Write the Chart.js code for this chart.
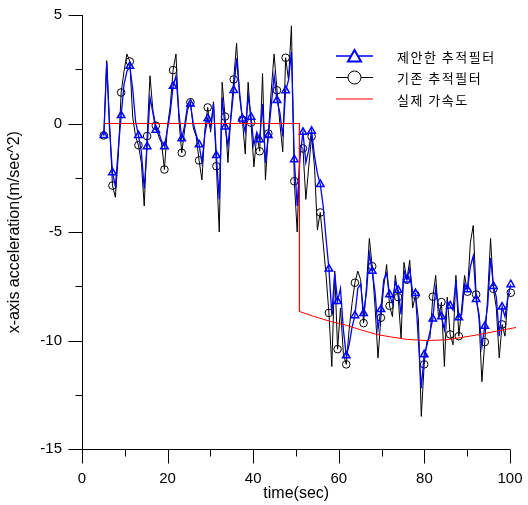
<!DOCTYPE html>
<html>
<head>
<meta charset="utf-8">
<script src="https://cdn.jsdelivr.net/npm/chart.js@4.4.1/dist/chart.umd.min.js"></script>
<style>
    html, body { margin: 0; padding: 0; background: #fff; }
    #wrap { width: 528px; height: 505px; }
</style>
</head>
<body>
<div id="wrap"><canvas id="accelChart" width="528" height="505"></canvas></div>
<script>
// filter outputs are sampled every sampleStep seconds, a marker every 3rd sample
var startTime = 5.1;
var sampleStep = 0.6743;
var markerEvery = 3;

var proposedFilter = [
    -0.55, 2.8, -0.3, -2.26, -2.9, -1.2, 0.37, 1.8, 2.4, 2.64, 1.6, 0.1,
    -0.55, -1.3, -3.0, -1.06, 1.2, 0.5, -0.3, -0.4, -0.8, -1.06, -0.3, 0.5,
    1.72, 2.2, 0.5, -0.7, -0.1, 0.8, 0.9, 0.0, -0.5, -0.97, -1.8, -0.5,
    0.23, -0.2, 0.9, -1.47, -3.5, 1.2, -0.15, -1.0, 0.2, 1.53, 3.0, 1.5,
    0.22, -0.4, 1.3, 0.3, -1.0, -0.4, -0.74, 0.9, -1.8, -0.55, 0.8, 2.2,
    1.07, 0.5, -0.6, 1.52, 2.0, 3.3, -1.66, -3.8, -1.5, -0.4, -1.8, -1.2,
    -0.35, -1.5, -2.3, -2.8, -3.8, -5.3, -6.7, -8.8, -6.9, -8.2, -7.6, -9.5,
    -10.7, -10.2, -9.4, -8.85, -7.6, -7.4, -8.75, -7.8, -6.0, -6.8, -7.8, -9.5,
    -8.57, -7.2, -6.9, -7.88, -8.3, -7.3, -7.68, -8.8, -6.8, -7.2, -6.7, -7.8,
    -7.83, -10.0, -12.2, -10.65, -10.2, -9.6, -9.0, -7.6, -8.5, -8.9, -9.5, -8.2,
    -8.4, -8.6, -7.2, -8.95, -8.8, -7.4, -7.65, -6.6, -6.1, -8.1, -8.8, -10.3,
    -9.34, -8.4, -6.2, -7.5, -8.0, -9.8, -8.45, -8.9, -8.0, -7.42, -6.65
];

var conventionalFilter = [
    -0.55, 2.9, 0.0, -2.86, -3.4, -1.5, 1.43, 2.4, 3.2, 2.86, 0.3, -0.6,
    -1.0, -1.8, -3.8, -0.58, 2.2, 0.6, -0.1, -0.6, -0.9, -2.12, -0.2, 0.8,
    2.46, 3.2, 0.2, -1.35, -0.3, 0.6, 0.98, -0.2, -0.6, -1.7, -2.6, -0.3,
    0.74, -0.4, 1.0, -1.97, -5.0, 1.9, 0.32, -1.8, 0.3, 2.03, 3.7, 1.3,
    0.18, -1.4, 1.9, 0.04, -2.0, -0.5, -1.28, 2.3, -2.6, -0.46, 1.5, 3.2,
    1.53, 0.0, -1.3, 3.03, 2.0, 4.5, -2.66, -5.0, -1.0, -1.15, -3.5, -2.0,
    -0.6, -2.0, -4.9, -4.1, -5.5, -7.0, -8.73, -11.2, -6.8, -10.4, -8.5, -10.6,
    -11.1, -9.5, -8.3, -7.34, -6.8, -7.2, -9.2, -7.5, -5.3, -6.58, -8.5, -10.8,
    -8.95, -7.5, -6.5, -8.4, -8.9, -7.0, -8.0, -9.9, -6.4, -7.2, -6.3, -8.5,
    -7.9, -9.0, -13.5, -11.1, -10.0, -9.9, -7.98, -7.0, -9.0, -8.23, -11.2, -8.0,
    -9.72, -10.2, -7.0, -9.8, -8.5, -7.0, -7.75, -5.5, -4.7, -7.88, -9.0, -11.9,
    -10.07, -8.0, -5.3, -7.62, -8.5, -10.8, -9.26, -9.8, -8.0, -7.8, -5.9
];

var trueTime = [5.3, 50.8, 50.8, 54, 58, 61.8, 65, 68.8, 72, 76, 80.6, 85, 89, 93, 96.9, 101.4];
var trueAccel = [0, 0, -8.66, -8.88, -9.12, -9.3, -9.5, -9.72, -9.83, -9.95, -10.0, -9.97, -9.85, -9.72, -9.57, -9.4];

var xTicks = [0, 20, 40, 60, 80, 100];
var yTicks = [5, 0, -5, -10, -15];
var legendLabels = ['제안한 추적필터', '기존 추적필터', '실제 가속도'];

function toPoints(values) {
    return values.map(function (v, i) { return { x: startTime + i * sampleStep, y: v }; });
}

function markerRadius(r) {
    return function (c) { return c.dataIndex % markerEvery === 0 ? r : 0; };
}

// axes with major/minor ticks, axis titles and the legend inside the plot
var framePlugin = {
    id: 'frame',
    afterDraw: function (chart) {
        var ctx = chart.ctx;
        var xs = chart.scales.x, ys = chart.scales.y;
        var L = Math.round(xs.getPixelForValue(xTicks[0])) + 0.5;
        var R = Math.round(xs.getPixelForValue(xTicks[xTicks.length - 1]));
        var T = Math.round(ys.getPixelForValue(yTicks[0]));
        var B = Math.round(ys.getPixelForValue(yTicks[yTicks.length - 1])) + 0.5;
        var i, p;

        ctx.save();
        ctx.strokeStyle = '#000';
        ctx.lineWidth = 1;
        ctx.beginPath();
        ctx.moveTo(L, T);
        ctx.lineTo(L, B);
        ctx.lineTo(R, B);
        for (i = 0; i < yTicks.length; i++) {
            p = Math.round(ys.getPixelForValue(yTicks[i])) + 0.5;
            ctx.moveTo(L - 14, p); ctx.lineTo(L, p);
            if (i < yTicks.length - 1) {
                p = Math.round(ys.getPixelForValue((yTicks[i] + yTicks[i + 1]) / 2)) + 0.5;
                ctx.moveTo(L - 7, p); ctx.lineTo(L, p);
            }
        }
        for (i = 0; i < xTicks.length; i++) {
            p = Math.round(xs.getPixelForValue(xTicks[i])) + 0.5;
            ctx.moveTo(p, B); ctx.lineTo(p, B + 14);
            if (i < xTicks.length - 1) {
                p = Math.round(xs.getPixelForValue((xTicks[i] + xTicks[i + 1]) / 2)) + 0.5;
                ctx.moveTo(p, B); ctx.lineTo(p, B + 7);
            }
        }
        ctx.stroke();

        ctx.fillStyle = '#000';
        ctx.font = '16px "Liberation Sans", Arial, sans-serif';
        ctx.textAlign = 'center';
        ctx.textBaseline = 'middle';
        ctx.fillText('time(sec)', (L + R) / 2, 494);
        ctx.save();
        ctx.translate(15, (T + B) / 2);
        ctx.rotate(-Math.PI / 2);
        ctx.fillText('x-axis acceleration(m/sec^2)', 0, 0);
        ctx.restore();

        // legend
        ctx.font = '13px "Noto Sans CJK KR", sans-serif';
        ctx.letterSpacing = '1.5px';
        ctx.textAlign = 'left';
        for (i = 0; i < chart.data.datasets.length; i++) {
            var ds = chart.data.datasets[i];
            var y = 56 + i * 21.5;
            ctx.strokeStyle = ds.borderColor;
            ctx.lineWidth = ds.borderWidth;
            ctx.beginPath();
            ctx.moveTo(336, y); ctx.lineTo(373, y);
            ctx.stroke();
            if (ds.pointStyle === 'triangle') {
                ctx.beginPath();
                ctx.moveTo(354.5, y - 6);
                ctx.lineTo(361, y + 5.5);
                ctx.lineTo(348, y + 5.5);
                ctx.closePath();
                ctx.fillStyle = '#fff';
                ctx.fill();
                ctx.lineWidth = 2;
                ctx.stroke();
            } else if (ds.pointStyle === 'circle') {
                ctx.beginPath();
                ctx.arc(354.5, y, 6.5, 0, Math.PI * 2);
                ctx.fillStyle = '#fff';
                ctx.fill();
                ctx.stroke();
            }
            ctx.fillStyle = '#000';
            ctx.fillText(ds.label, 397, y + 1);
        }
        ctx.restore();
    }
};

var ctx_accel = document.getElementById('accelChart').getContext('2d');
var accelChart = new Chart(ctx_accel, {
    type: 'line',
    data: {
        datasets: [
            {
                label: legendLabels[0],
                data: toPoints(proposedFilter),
                borderColor: '#0000ff',
                borderWidth: 1.3,
                backgroundColor: 'rgba(0,0,0,0)',
                pointStyle: 'triangle',
                pointRadius: markerRadius(4.3),
                pointBorderColor: '#0000ff',
                pointBorderWidth: 1.5,
                pointBackgroundColor: 'rgba(255,255,255,0)',
                tension: 0,
                clip: false,
                order: 2
            },
            {
                label: legendLabels[1],
                data: toPoints(conventionalFilter),
                borderColor: '#000000',
                borderWidth: 1,
                backgroundColor: 'rgba(0,0,0,0)',
                pointStyle: 'circle',
                pointRadius: markerRadius(3.8),
                pointBorderColor: '#000000',
                pointBorderWidth: 1,
                pointBackgroundColor: 'rgba(255,255,255,0)',
                tension: 0,
                clip: false,
                order: 3
            },
            {
                label: legendLabels[2],
                data: trueTime.map(function (t, i) { return { x: t, y: trueAccel[i] }; }),
                borderColor: '#ff0000',
                borderWidth: 1,
                backgroundColor: 'rgba(0,0,0,0)',
                pointStyle: false,
                pointRadius: 0,
                tension: 0,
                clip: false,
                order: 1
            }
        ]
    },
    options: {
        responsive: false,
        animation: false,
        devicePixelRatio: 1,
        layout: { autoPadding: false, padding: { top: 15, right: 18, left: 0, bottom: 0 } },
        plugins: {
            legend: { display: false },
            tooltip: { enabled: false }
        },
        scales: {
            x: {
                type: 'linear',
                min: 0,
                max: 100,
                grid: { display: false },
                border: { display: false },
                afterBuildTicks: function (s) { s.ticks = xTicks.map(function (v) { return { value: v }; }); },
                afterFit: function (s) {
                    s.height = 56;
                    s.paddingLeft = 0;
                    s.paddingRight = 0;
                },
                ticks: {
                    padding: 13,
                    color: '#000',
                    maxRotation: 0,
                    font: { family: '"Liberation Sans", Arial, sans-serif', size: 15 }
                }
            },
            y: {
                type: 'linear',
                min: -15,
                max: 5,
                grid: { display: false },
                border: { display: false },
                afterBuildTicks: function (s) { s.ticks = yTicks.map(function (v) { return { value: v }; }); },
                afterFit: function (s) {
                    s.width = 82;
                    s.paddingTop = 0;
                    s.paddingBottom = 0;
                },
                ticks: {
                    padding: 12,
                    color: '#000',
                    font: { family: '"Liberation Sans", Arial, sans-serif', size: 15 }
                }
            }
        }
    },
    plugins: [framePlugin]
});
</script>
</body>
</html>
